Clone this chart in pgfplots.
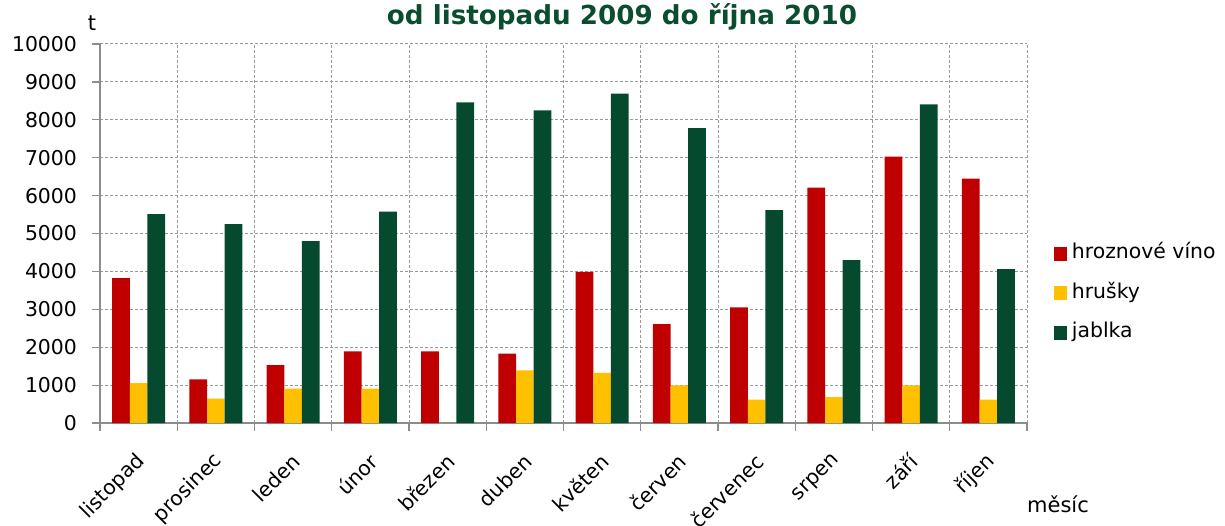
\documentclass[border=0pt]{standalone}
\usepackage{pgfplots}
\pgfplotsset{compat=1.18}
\usepackage{fontspec}
\setmainfont{DejaVu Sans}
\definecolor{cRed}{HTML}{C00000}
\definecolor{cYel}{HTML}{FFC000}
\definecolor{cGrn}{HTML}{054A2F}
\definecolor{cTitle}{HTML}{0A4D2F}
\definecolor{cGrid}{HTML}{9A9A9A}
\definecolor{cAxis}{HTML}{8C8C8C}
\pgfplotsset{sq legend/.style={legend image code/.code={\fill[##1] (0pt,-3.6pt) rectangle (6.4pt,3.6pt);}}}
\begin{document}
\begin{tikzpicture}
\useasboundingbox (0,0) rectangle (612.5pt,262.5pt);
\begin{axis}[
  at={(50pt,51pt)}, anchor=south west,
  scale only axis, width=463.5pt, height=189.5pt,
  ybar=0pt, bar width=8.8pt,
  xmin=-0.5, xmax=11.5, ymin=0, ymax=10000,
  xtick={0,...,11},
  xticklabels={listopad,prosinec,leden,únor,březen,duben,květen,červen,červenec,srpen,září,říjen},
  minor xtick={-0.5,0.5,...,11.5},
  ytick={0,1000,...,10000},
  scaled y ticks=false,
  /pgf/number format/1000 sep={},
  /pgf/number format/assume math mode=true,
  axis x line*=bottom, axis y line*=left,
  axis line style={cAxis, line width=0.8pt},
  xminorgrids=true, ymajorgrids=true, xmajorgrids=false,
  major grid style={cGrid, line width=0.5pt, dash pattern=on 1.5pt off 1pt},
  minor grid style={cGrid, line width=0.5pt, dash pattern=on 1.5pt off 1pt},
  tick align=outside, major tick length=4pt, minor tick length=4pt,
  tick style={cAxis, line width=0.6pt},
  major x tick style={draw=none},
  yticklabel style={font=\fontsize{10.2}{12}\selectfont, xshift=-4pt},
  xticklabel style={font=\fontsize{10.2}{12}\selectfont, yshift=-11pt, xshift=4pt, rotate=45, anchor=east},
  legend style={at={(1.029,0.473)}, anchor=north west, draw=none, fill=none,
    inner sep=0pt, outer sep=0pt, font=\fontsize{10.2}{12}\selectfont,
    nodes={inner sep=0pt, text height=7.6pt, text depth=2.4pt},
    row sep=9.75pt, column sep=2.6pt},
  legend cell align=left,
]
\addplot[fill=cRed, draw=none, sq legend] coordinates {(0,3820) (1,1150) (2,1530) (3,1890) (4,1890) (5,1830) (6,3990) (7,2610) (8,3050) (9,6210) (10,7030) (11,6450)};
\addplot[fill=cYel, draw=none, sq legend] coordinates {(0,1050) (1,640) (2,910) (3,910) (4,0) (5,1390) (6,1320) (7,990) (8,615) (9,685) (10,990) (11,615)};
\addplot[fill=cGrn, draw=none, sq legend] coordinates {(0,5510) (1,5250) (2,4800) (3,5580) (4,8460) (5,8250) (6,8690) (7,7780) (8,5620) (9,4300) (10,8410) (11,4060)};
\legend{hroznové víno, hrušky, jablka}
\end{axis}
\node[anchor=base, text=cTitle, font=\fontsize{13.1}{15}\selectfont\bfseries, inner sep=0pt] at (311pt,250pt) {od listopadu 2009 do října 2010};
\node[anchor=base, font=\fontsize{10.5}{12}\selectfont, inner sep=0pt] at (46pt,247pt) {t};
\node[anchor=base, font=\fontsize{10.5}{12}\selectfont, inner sep=0pt] at (529pt,6.5pt) {měsíc};
\end{tikzpicture}
\end{document}
